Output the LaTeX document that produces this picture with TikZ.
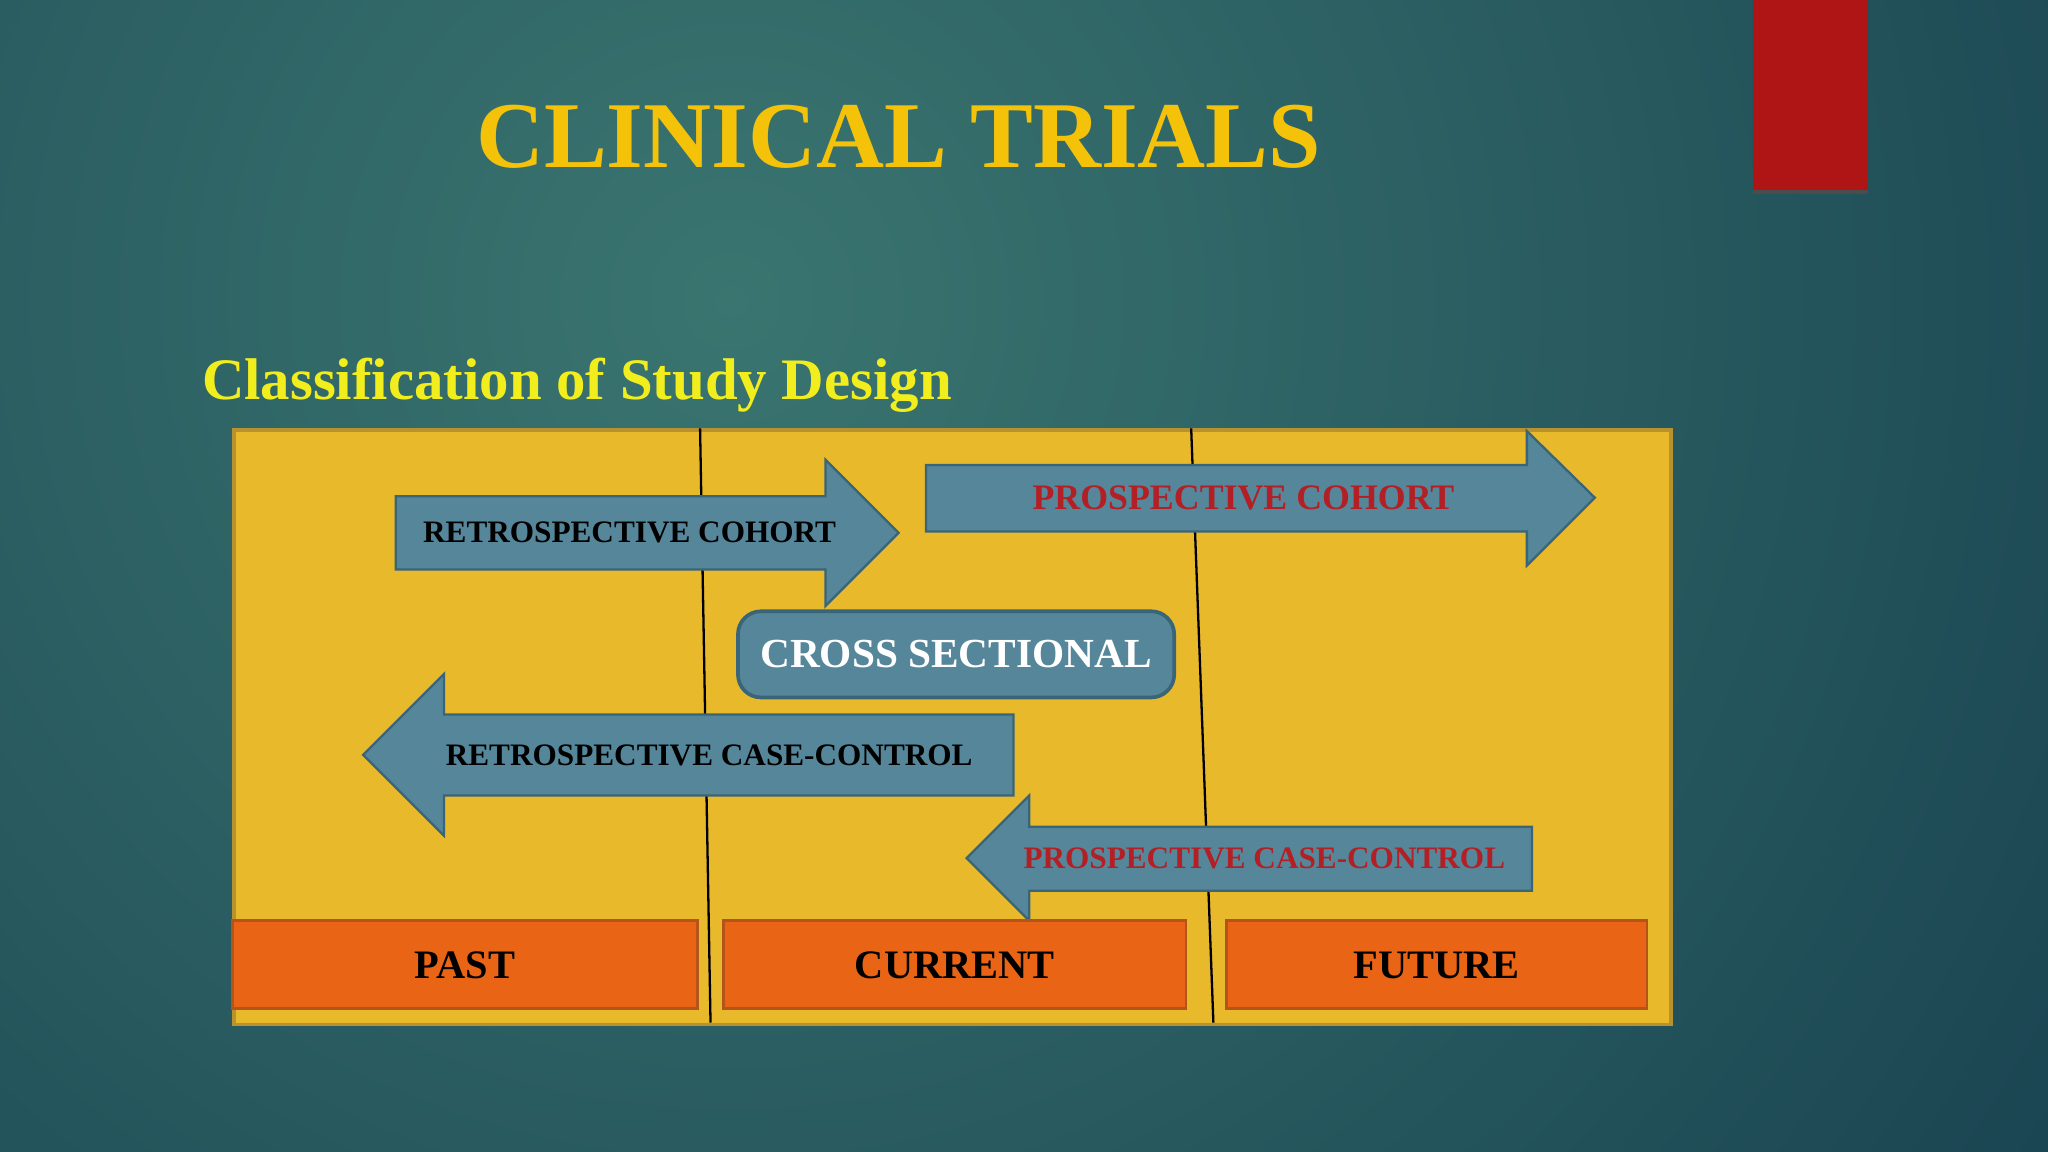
\documentclass[tikz,border=0pt]{standalone}
\usepackage{fontspec}
\setmainfont{Liberation Serif}
\begin{document}
\begin{tikzpicture}[x=0.01cm,y=-0.01cm,
  arr/.style={fill=arrfill,draw=arrline,line width=0.5pt},
  lab/.style={font=\fontsize{6.8}{7}\selectfont\bfseries},
  tbox/.style={fill=boxor,draw=boxline,line width=0.6pt},
  tlab/.style={font=\fontsize{8.8}{10}\selectfont\bfseries,text=black}]
\definecolor{bgin}{HTML}{3A7570}
\definecolor{bgout}{HTML}{1A4552}
\definecolor{titley}{HTML}{F5C20A}
\definecolor{suby}{HTML}{F2EE1E}
\definecolor{yellowbox}{HTML}{E8B92B}
\definecolor{yline}{HTML}{B8922E}
\definecolor{arrfill}{HTML}{55869A}
\definecolor{arrline}{HTML}{3A6478}
\definecolor{redtxt}{HTML}{B22025}
\definecolor{boxor}{HTML}{E96415}
\definecolor{boxline}{HTML}{B5541A}
\definecolor{redbar}{HTML}{B01515}
\useasboundingbox (0,0) rectangle (1568,882);
\begin{scope}
\clip (0,0) rectangle (1568,882);
\fill[bgout] (0,0) rectangle (1568,882);
\shade[inner color=bgin,outer color=bgout] (560,230) circle (1200);
\end{scope}
\fill[redbar] (1342,0) rectangle (1430,147);
\draw[line width=1pt,black!70] (1342,147) -- (1430,147);
\node[text=titley,font=\fontsize{20.5}{24}\selectfont\bfseries] (title) at (688,105) {CLINICAL TRIALS};
\node[text=suby,font=\fontsize{12.8}{14}\selectfont\bfseries,anchor=west,inner sep=0] (sub) at (154,295) {Classification of Study Design};
\node[fill=yellowbox,draw=yline,line width=0.8pt,minimum width=1100*0.01cm,minimum height=455*0.01cm,inner sep=0,anchor=north west] (frame) at (178,328) {};
\coordinate (d1a) at (536,328); \coordinate (d1b) at (544,783);
\coordinate (d2a) at (912,328); \coordinate (d2b) at (929,783);
\draw[line width=0.5pt] (d1a) -- (d1b);
\draw[line width=0.5pt] (d2a) -- (d2b);
% retrospective cohort
\draw[arr] (303,380) -- (632,380) -- (632,352) -- (688,408) -- (632,464) -- (632,436) -- (303,436) -- cycle;
\node[lab,text=black] (rc) at (482,408) {RETROSPECTIVE COHORT};
% prospective cohort
\draw[arr] (709,356) -- (1169,356) -- (1169,330) -- (1221,381) -- (1169,433) -- (1169,407) -- (709,407) -- cycle;
\node[lab,text=redtxt,font=\fontsize{7.8}{8}\selectfont\bfseries] (pc) at (952,381) {PROSPECTIVE COHORT};
% cross sectional
\node[fill=arrfill,draw=arrline,line width=0.8pt,rounded corners=5pt,minimum width=334*0.01cm,minimum height=66*0.01cm,text=white,font=\fontsize{9}{10}\selectfont\bfseries] (cs) at (732,501) {CROSS SECTIONAL};
% retro case-control
\draw[arr] (278,578) -- (340,516) -- (340,547) -- (776,547) -- (776,609) -- (340,609) -- (340,640) -- cycle;
\node[lab,text=black] (rcc) at (543,578) {RETROSPECTIVE CASE-CONTROL};
% prospective case-control
\draw[arr] (740,657) -- (788,609) -- (788,633) -- (1173,633) -- (1173,682) -- (788,682) -- (788,705) -- cycle;
\node[lab,text=redtxt] (pcc) at (968,657) {PROSPECTIVE CASE-CONTROL};
% bottom boxes
\draw[tbox] (178,705) rectangle (534,772);
\node[tlab] (past) at (356,739) {PAST};
\draw[tbox] (554,705) rectangle (908,772);
\node[tlab] (cur) at (731,739) {CURRENT};
\draw[tbox] (939,705) rectangle (1261,772);
\node[tlab] (fut) at (1100,739) {FUTURE};
\end{tikzpicture}
\end{document}
